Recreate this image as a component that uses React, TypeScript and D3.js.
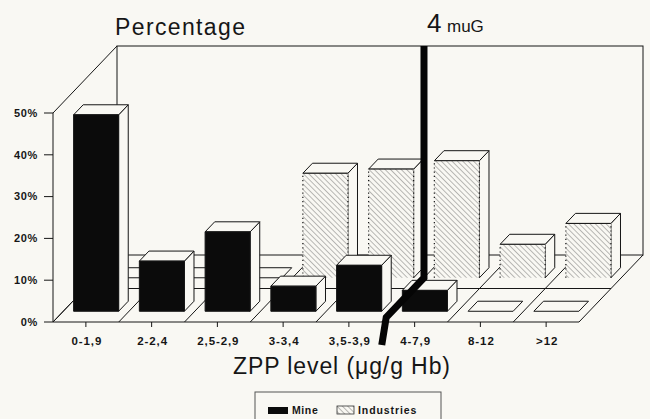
import React from 'react';
import * as d3 from 'd3';

// ---- data ----
const categories = ['0-1,9', '2-2,4', '2,5-2,9', '3-3,4', '3,5-3,9', '4-7,9', '8-12', '>12'];
const mineValues = [47, 12, 19, 6, 11, 5, 0, 0];
const industriesValues = [0, 0, 0, 25, 26, 28, 8, 13];
const yTicks = [0, 10, 20, 30, 40, 50];
const seriesNames = ['Mine', 'Industries'];
const markerIndex = 5; // boundary before "4-7,9" => 4 µg
const yTitle = 'Percentage';
const xTitle = 'ZPP level (μg/g Hb)';

// ---- layout ----
const W = 650;
const H = 419;
const BG = '#f9f8f3';
const INK = '#161616';
const DX = 64;
const DY = -67;
const ROWS = [
  { z0: 0.66, z1: 0.81 }, // industries (back)
  { z0: 0.16, z1: 0.31 }, // mine (front)
];

const x = d3.scaleBand<string>().domain(categories).range([53, 579]).padding(0);
const y = d3.scaleLinear().domain([0, 50]).range([322, 113]);
const bw = x.bandwidth() * 0.685;
const bpad = (x.bandwidth() - bw) / 2;

const P = (xf: number, v: number, z: number): [number, number] => [xf + DX * z, y(v) + DY * z];
const poly = (pts: [number, number][]) => pts.map((p) => p.join(',')).join(' ');
const line = d3.line();

function Bar({ cat, v, z0, z1, kind }: { cat: string; v: number; z0: number; z1: number; kind: 'mine' | 'ind' }) {
  const x0 = (x(cat) as number) + bpad;
  const x1 = x0 + bw;
  const top = [P(x0, v, z0), P(x1, v, z0), P(x1, v, z1), P(x0, v, z1)] as [number, number][];
  if (v === 0) {
    return <polygon points={poly(top)} fill={BG} stroke={INK} strokeWidth={1} />;
  }
  const front = [P(x0, 0, z0), P(x1, 0, z0), P(x1, v, z0), P(x0, v, z0)] as [number, number][];
  const side = [P(x1, 0, z0), P(x1, 0, z1), P(x1, v, z1), P(x1, v, z0)] as [number, number][];
  return (
    <g>
      <polygon points={poly(side)} fill={BG} stroke={INK} strokeWidth={1} />
      <polygon points={poly(top)} fill={BG} stroke={INK} strokeWidth={1} />
      {kind === 'mine' ? (
        <polygon points={poly(front)} fill="#0b0b0b" stroke={INK} strokeWidth={1} />
      ) : (
        <g>
          <polygon points={poly(front)} fill={BG} />
          <polygon points={poly(front)} fill="url(#hatch)" />
          <path d={line([front[3], front[2]]) as string} stroke={INK} strokeWidth={1} />
          <path d={line([front[0], front[3]]) as string} stroke={INK} strokeWidth={1.2} strokeDasharray="1.2 3" />
          <path d={line([front[1], front[2]]) as string} stroke={INK} strokeWidth={1.2} strokeDasharray="1.2 3" />
        </g>
      )}
    </g>
  );
}

export default function App() {
  const [xl, xr] = x.range();
  const floorFront = line([P(xl, 0, 0), P(xr, 0, 0)]) as string;
  const floorMid = line([P(xl, 0, 0.5), P(xr, 0, 0.5)]) as string;
  const bounds = d3.range(categories.length + 1).map((i) => xl + i * x.step());
  const xb = bounds[markerIndex];
  const markerPath = line([
    [xb, 345],
    P(xb, 0, 0.07),
    P(xb, 0, ROWS[0].z0),
    [P(xb, 0, ROWS[0].z0)[0], P(xl, 50, 1)[1]],
  ]) as string;

  return (
    <svg width={W} height={H} style={{ position: 'absolute', left: 0, top: 0, background: BG }}
      fontFamily="'Liberation Sans', Arial, sans-serif">
      <defs>
        <pattern id="hatch" width={3.8} height={3.8} patternUnits="userSpaceOnUse" patternTransform="rotate(-45)">
          <line x1={0} y1={0} x2={0} y2={3.8} stroke="#555" strokeWidth={0.8} />
        </pattern>
      </defs>
      <rect x={0} y={0} width={W} height={H} fill={BG} />

      {/* back wall */}
      <rect x={P(xl, 0, 1)[0]} y={P(xl, 50, 1)[1]} width={xr - xl} height={y(0) - y(50)}
        fill="none" stroke={INK} strokeWidth={1} />
      {/* left wall */}
      <path d={line([P(xl, 0, 0), P(xl, 50, 0), P(xl, 50, 1)]) as string} fill="none" stroke={INK} strokeWidth={1} />
      <path d={line([P(xl, 0, 0), P(xl, 0, 1)]) as string} fill="none" stroke={INK} strokeWidth={1} />
      {/* floor */}
      <path d={floorFront} stroke={INK} strokeWidth={1} />
      <path d={floorMid} stroke={INK} strokeWidth={1} />
      {bounds.map((b, i) => (
        <path key={i} d={line([P(b, 0, 0), P(b, 0, 1)]) as string} stroke={INK} strokeWidth={1} />
      ))}

      {/* y axis ticks */}
      {yTicks.map((t) => (
        <g key={t}>
          <line x1={xl - 9} x2={xl} y1={y(t)} y2={y(t)} stroke={INK} strokeWidth={1} />
          <text x={xl - 15} y={y(t)} dy="0.35em" textAnchor="end" fontSize={11} fontWeight="bold" fill={INK}
            letterSpacing={0.7}>{t}%</text>
        </g>
      ))}
      {/* x ticks */}
      {categories.map((c) => {
        const cx = (x(c) as number) + x.bandwidth() / 2;
        return (
          <g key={c}>
            <line x1={cx} x2={cx} y1={y(0)} y2={y(0) + 5} stroke={INK} strokeWidth={1} />
            <text x={cx + 1} y={345} textAnchor="middle" fontSize={11.5} fontWeight="bold" fill={INK}
              letterSpacing={0.9}>{c}</text>
          </g>
        );
      })}

      {/* bars: back row then front row */}
      {categories.map((c, i) => (
        <Bar key={'i' + c} cat={c} v={industriesValues[i]} z0={ROWS[0].z0} z1={ROWS[0].z1} kind="ind" />
      ))}
      {categories.map((c, i) => (
        <Bar key={'m' + c} cat={c} v={mineValues[i]} z0={ROWS[1].z0} z1={ROWS[1].z1} kind="mine" />
      ))}

      {/* 4 µg marker */}
      <path d={markerPath} fill="none" stroke="#050505" strokeWidth={7} strokeLinejoin="miter" />
      <text x={427} y={32} fontSize={26} fill={INK}>4</text>
      <text x={447} y={32} fontSize={17} fill={INK}>muG</text>

      {/* titles */}
      <text x={115} y={35} fontSize={23} fill={INK} textLength={130} lengthAdjust="spacing">{yTitle}</text>
      <text x={233} y={374} fontSize={23} fill={INK} textLength={217} lengthAdjust="spacing">{xTitle}</text>

      {/* legend */}
      <rect x={255} y={392} width={186} height={40} fill="none" stroke="#555" strokeWidth={1} />
      <rect x={268} y={407} width={20} height={7} fill="#0b0b0b" />
      <text x={292} y={414} fontSize={10.5} fontWeight="bold" fill={INK} letterSpacing={0.6}>{seriesNames[0]}</text>
      <rect x={337} y={406} width={17} height={8} fill="url(#hatch)" stroke="#333" strokeWidth={0.8} />
      <text x={358} y={414} fontSize={10.5} fontWeight="bold" fill={INK} letterSpacing={0.9}>{seriesNames[1]}</text>
    </svg>
  );
}
